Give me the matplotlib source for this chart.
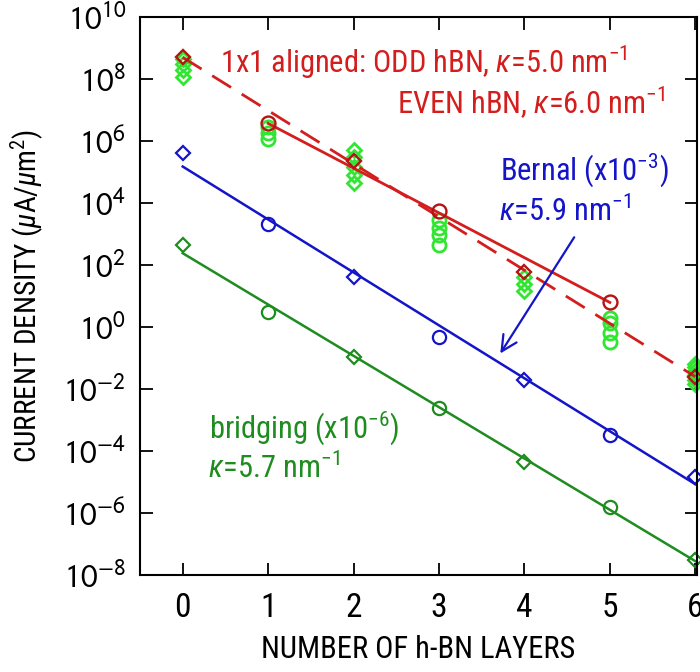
import numpy as np
import matplotlib.pyplot as plt
from matplotlib import font_manager
from matplotlib.ticker import FixedLocator, FixedFormatter

# number of h-BN layers
odd_layers = [1, 3, 5]
even_layers = [0, 2, 4, 6]

# 1x1 aligned junctions
aligned_even = [5e8, 2.3e5, 58, 0.025]
aligned_odd = [3.7e6, 5.6e3, 6.2]

# scatter of the individual aligned configurations
spread_even_x = [0, 0, 0, 0, 2, 2, 2, 2, 2, 4, 4, 4, 6, 6, 6, 6, 6, 6]
spread_even_y = [4.5e8, 3e8, 2e8, 1.2e8,
                 5.2e5, 3e5, 1.5e5, 8e4, 4.5e4,
                 40, 24, 15,
                 0.065, 0.05, 0.038, 0.028, 0.02, 0.015]
spread_odd_x = [1, 1, 1, 3, 3, 3, 3, 5, 5, 5, 5]
spread_odd_y = [2.8e6, 1.8e6, 1.2e6,
                2.8e3, 1.6e3, 9e2, 4.5e2,
                2.0, 1.3, 0.65, 0.33]

# Bernal stacking (x1e-3)
bernal_even = [4e5, 40, 0.019, 1.5e-5]
bernal_odd = [2.1e3, 0.46, 3.3e-4]

# bridging (x1e-6)
bridging_even = [450, 0.107, 4.3e-5, 3e-8]
bridging_odd = [3.0, 2.4e-3, 1.6e-6]

# exponential fits (end points)
aligned_odd_fit_x, aligned_odd_fit_y = [1, 5], [3.7e6, 6.2]
aligned_even_fit_x, aligned_even_fit_y = [0, 6], [5e8, 0.025]
bernal_fit_x, bernal_fit_y = [0, 6], [1.5e5, 8.5e-6]
bridging_fit_x, bridging_fit_y = [0, 6], [2.4e2, 2.8e-8]

ytick_vals = [1e-8, 1e-6, 1e-4, 1e-2, 1e0, 1e2, 1e4, 1e6, 1e8, 1e10]
ytick_text = [r'$10^{%d}$' % e for e in range(-8, 11, 2)]

RED = '#d41e1e'
RED_DARK = '#b41414'
LIME = '#30e630'
BLUE = '#1414c8'
GREEN = '#1e8c1e'

# pick a narrow sans if one is installed
installed = {f.name for f in font_manager.fontManager.ttflist}
narrow = 'Liberation Sans'
for name in ['Liberation Sans Narrow', 'DejaVu Sans Condensed', 'Roboto Condensed']:
    if name in installed:
        narrow = name
        break

plt.rcParams['font.family'] = [narrow, 'DejaVu Sans']
plt.rcParams['mathtext.fontset'] = 'custom'
plt.rcParams['mathtext.rm'] = narrow
plt.rcParams['mathtext.it'] = narrow + ':italic'

fig = plt.figure(figsize=(7, 6.72), dpi=100)
ax = fig.add_axes([140 / 700, 1 - 575 / 672, 557 / 700, 558 / 672])
ax.set_yscale('log')

mk = dict(ls='none', mfc='none', clip_on=False)

# light green scatter first so the fitted data sit on top
ax.plot(spread_even_x, spread_even_y, marker='D', ms=7, mec=LIME, mew=2, **mk)
ax.plot(spread_odd_x, spread_odd_y, marker='o', ms=9.5, mec=LIME, mew=2, **mk)

ax.plot(aligned_even_fit_x, aligned_even_fit_y, color=RED, lw=2, ls=(0, (8, 4.5)))
ax.plot(aligned_odd_fit_x, aligned_odd_fit_y, color=RED, lw=2)
ax.plot(even_layers, aligned_even, marker='D', ms=7.5, mec=RED_DARK, mew=1.7, **mk)
ax.plot(odd_layers, aligned_odd, marker='o', ms=10, mec=RED_DARK, mew=1.7, **mk)

ax.plot(bernal_fit_x, bernal_fit_y, color=BLUE, lw=1.8)
ax.plot(even_layers, bernal_even, marker='D', ms=7, mec=BLUE, mew=1.6, **mk)
ax.plot(odd_layers, bernal_odd, marker='o', ms=9.5, mec=BLUE, mew=1.6, **mk)

ax.plot(bridging_fit_x, bridging_fit_y, color=GREEN, lw=1.8)
ax.plot(even_layers, bridging_even, marker='D', ms=7, mec=GREEN, mew=1.6, **mk)
ax.plot(odd_layers, bridging_odd, marker='o', ms=9.5, mec=GREEN, mew=1.6, **mk)

ax.set_xlim(-0.5, 6.02)
ax.set_ylim(1e-8, 1e10)
ax.xaxis.set_major_locator(FixedLocator(range(7)))
ax.yaxis.set_major_locator(FixedLocator(ytick_vals))
ax.yaxis.set_major_formatter(FixedFormatter(ytick_text))
ax.yaxis.set_minor_locator(FixedLocator([]))
ax.tick_params(which='both', direction='in', top=True, right=True,
               length=9, width=1.3, labelsize=24)
ax.tick_params(axis='x', pad=12)
ax.tick_params(axis='y', pad=10)
for lbl in ax.get_yticklabels():
    lbl.set_family('Liberation Sans')
    lbl.set_math_fontfamily('stixsans')
for s in ax.spines.values():
    s.set_linewidth(1.5)

ax.set_xlabel('NUMBER OF h-BN LAYERS', fontsize=22, labelpad=8)
ax.set_ylabel(r'CURRENT DENSITY ($\mu$A/$\mu$m$^2$)', fontsize=21, labelpad=12)

tk = dict(transform=ax.transAxes, fontsize=22, va='center')
ax.text(0.143, 0.919, r'1x1 aligned: ODD hBN, $\kappa$=5.0 nm$^{-1}$', color=RED, **tk)
ax.text(0.944, 0.846, r'EVEN hBN, $\kappa$=6.0 nm$^{-1}$', color=RED, ha='right', **tk)
ax.text(0.647, 0.725, r'Bernal (x10$^{-3}$)', color=BLUE, **tk)
ax.text(0.644, 0.651, r'$\kappa$=5.9 nm$^{-1}$', color=BLUE, **tk)
ax.text(0.124, 0.263, r'bridging (x10$^{-6}$)', color=GREEN, **tk)
ax.text(0.122, 0.192, r'$\kappa$=5.7 nm$^{-1}$', color=GREEN, **tk)

ax.annotate('', xy=(3.70, 10 ** -0.93), xytext=(4.60, 10 ** 2.97),
            arrowprops=dict(arrowstyle='->', color=BLUE, lw=1.6, mutation_scale=28))

fig.savefig('out.png', dpi=100)
